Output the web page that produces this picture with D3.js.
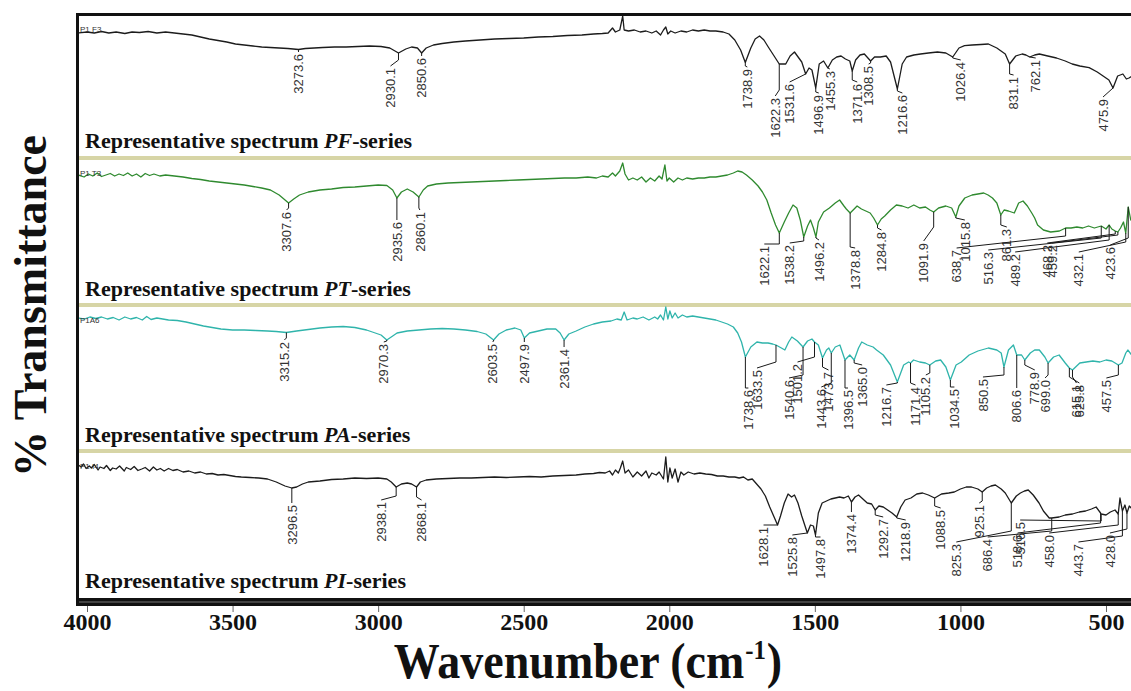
<!DOCTYPE html>
<html>
<head>
<meta charset="utf-8">
<script src="https://cdnjs.cloudflare.com/ajax/libs/d3/7.8.5/d3.min.js"></script>
<style>
body { margin: 0; background: #fff; }
svg { display: block; }
</style>
</head>
<body>
<div id="chart"></div>
<script>
//Declarations
var width = 1131, height = 691;
var svg, plot, xScale;

var xTicks = [4000, 3500, 3000, 2500, 2000, 1500, 1000, 500];
var seriesNames = ["PF", "PT", "PA", "PI"];
var sampleTags = ["P1 F3", "P1 T3", "P1A6", "P1 I4"];
var seriesColors = ["#1c1c1c", "#2f8a2f", "#2fb4ab", "#1c1c1c"];

// spectra: [wavenumber, %T]
var pfSpectrum = [[4030,81],[4000,82],[3975,81],[3950,82.5],[3925,81],[3900,82],[3870,80.5],[3845,82],[3820,81.5],[3790,82.5],[3760,81],[3730,82],[3700,81],[3670,80],[3640,79],[3610,77],[3580,75],[3550,73.5],[3520,72],[3490,70],[3460,69],[3430,68],[3400,67],[3370,66.5],[3340,66],[3310,65.5],[3273.6,64.5],[3250,65.5],[3220,66],[3190,66.5],[3150,67],[3110,67],[3070,67.5],[3030,68],[2990,67.5],[2960,66],[2930.1,61],[2905,65],[2885,67],[2865,66],[2850.6,61],[2835,66],[2810,69],[2780,70.5],[2740,72],[2700,73],[2650,74],[2600,75],[2550,75.5],[2500,76],[2450,77],[2400,77.5],[2350,78.5],[2300,79],[2260,80],[2230,80.5],[2210,81],[2195,86],[2185,82],[2170,84],[2160,98],[2155,84],[2140,83],[2120,84],[2100,82],[2080,83],[2060,81],[2045,83],[2030,79],[2020,84],[2012,87],[2005,80],[1995,83],[1980,81],[1960,83],[1940,82],[1920,84],[1900,83],[1880,84],[1860,83],[1840,83],[1815,82],[1795,80],[1775,74],[1755,64],[1738.9,51.5],[1720,66],[1705,75],[1690,78],[1675,74],[1660,67],[1640,58],[1622.3,50],[1600,50],[1585,58],[1570,62],[1555,56],[1545,52],[1531.6,40],[1520,46],[1510,44],[1496.9,26],[1485,50],[1470,53],[1455.3,46],[1440,54],[1425,57],[1410,58],[1395,55],[1380,53],[1371.6,43],[1360,54],[1345,59],[1330,60],[1308.5,53],[1295,57],[1275,57],[1255,58],[1240,52],[1216.6,25],[1200,50],[1185,57],[1160,59],[1137,60],[1110,61],[1079,62],[1050,61],[1026.4,57],[1005,66],[986,68.4],[960,69],[930,69.5],[904,70],[875,66],[846,60],[831.1,50],[810,58],[788,60],[775,59],[762.1,57],[745,59],[729,60],[700,58],[670,56],[640,53],[616,50],[590,48],[558,46.4],[530,42],[500,36],[490,34],[475.9,26],[460,38],[442,40],[430,35],[421,36],[410,38]];

var ptSpectrum = [[4030,83],[4010,81],[3995,84],[3980,82],[3965,85],[3950,81.5],[3935,83],[3920,84.5],[3905,82],[3890,84],[3875,82.5],[3860,85],[3845,82],[3830,84],[3815,81],[3800,84.5],[3785,82.5],[3770,84],[3750,82],[3730,83],[3700,82],[3670,81],[3640,79.5],[3610,78.5],[3580,77],[3550,76],[3520,75],[3490,74],[3460,73],[3430,71.5],[3400,70],[3370,68],[3340,63],[3307.6,55],[3290,59],[3270,63],[3240,66],[3200,68],[3160,69],[3120,70.5],[3080,71],[3040,72],[3000,73],[2970,72.5],[2950,68],[2935.6,60],[2920,66],[2900,69],[2880,66],[2860.1,61],[2845,68],[2830,72],[2800,74],[2760,75],[2720,75.5],[2680,76],[2640,76.5],[2600,77],[2560,77.5],[2520,78],[2480,78.5],[2440,79],[2400,79.5],[2360,80],[2320,80],[2280,81],[2250,80],[2230,82],[2210,81],[2195,85],[2185,82],[2170,87],[2160,95],[2152,84],[2140,78],[2125,80],[2110,78],[2095,81],[2080,76],[2065,80],[2050,77],[2035,82],[2025,79],[2015,93],[2008,77],[2000,80],[1985,76],[1970,80],[1955,78],[1940,80],[1920,79],[1900,80],[1880,80],[1860,81],[1840,81],[1820,82],[1800,83],[1780,85],[1765,87],[1750,86],[1735,83],[1715,78],[1695,72],[1680,66],[1665,58],[1650,45],[1635,33],[1622.1,25],[1605,36],[1590,45],[1575,53],[1562,50],[1550,38],[1538.2,21],[1525,32],[1515,38],[1505,30],[1496.2,21],[1488,36],[1470,46],[1450,50],[1430,55],[1415,58],[1400,52],[1392,49],[1378.8,45],[1365,49],[1355,52],[1340,49],[1325,47],[1310,45],[1298,40],[1284.8,33],[1272,39],[1260,42],[1240,48],[1220,53],[1200,52],[1180,50],[1160,53],[1140,50],[1120,51],[1105,48],[1091.9,46],[1075,50],[1050,52],[1030,50],[1015.8,41],[1005,52],[985,60],[960,63],[940,64],[920,65],[905,63],[890,60],[875,55],[861.3,43],[850,48],[835,47],[815,45],[800,55],[785,57],[770,52],[755,45],[745,40],[735,33],[715,28],[690,26],[660,27],[638.7,30],[620,30],[600,31],[580,30],[560,32],[540,30],[516.3,32],[500,29],[489.2,33],[480,29],[468.2,27],[459.2,26],[450,30],[440,36],[432.1,25],[423.6,51],[415,38],[405,40]];

var paSpectrum = [[4030,87],[4010,86],[3990,88],[3970,86.5],[3950,88],[3930,86],[3910,87.5],[3890,85],[3870,88],[3850,86],[3830,87.5],[3810,85],[3795,88.5],[3780,85.5],[3760,87],[3740,86],[3720,85],[3690,84.5],[3660,83],[3630,81],[3600,79],[3570,77.5],[3540,76],[3500,75],[3460,75],[3420,74.5],[3380,74],[3350,73.5],[3315.2,72.5],[3280,74],[3240,75.5],[3200,77],[3160,78],[3120,78.5],[3080,77.5],[3040,75],[3010,72],[2990,70],[2970.3,65],[2955,68],[2935,72],[2900,74],[2860,75],[2820,76],[2780,76.5],[2740,76],[2700,75],[2660,73.5],[2630,71],[2603.5,65],[2585,71],[2560,75],[2530,77],[2510,75],[2497.9,67],[2480,72],[2450,74],[2420,76],[2390,76],[2375,72],[2361.4,65],[2345,71],[2320,74],[2290,78],[2260,81],[2230,83],[2200,84],[2180,86],[2165,85],[2155,93],[2145,85],[2125,87],[2110,86],[2090,88],[2070,85],[2050,88],[2040,86],[2030,90],[2020,85],[2012,98],[2005,86],[1998,94],[1990,87],[1980,92],[1970,87],[1955,90],[1940,88],[1920,89],[1900,88],[1880,87],[1860,86],[1840,85],[1820,83],[1800,81],[1780,78],[1765,72],[1752,63],[1738.6,48],[1720,58],[1699,63],[1680,62],[1661,62],[1645,61],[1633.5,60],[1615,57],[1603,55],[1590,63],[1579,68],[1560,64],[1540.6,58],[1525,64],[1510,66],[1501.2,63],[1488,60],[1473.7,47],[1460,55],[1452,57],[1443.6,52],[1430,58],[1414,60],[1396.5,45],[1380,50],[1365,45],[1350,57],[1339,63],[1320,60],[1300,58],[1288,55],[1265,50],[1240,40],[1216.7,23],[1195,40],[1178,43],[1171.4,42],[1161,45],[1140,43],[1120,42],[1105.2,40],[1085,44],[1068,45],[1050,38],[1034.5,25],[1015,40],[997,43],[970,50],[940,54],[904,57],[875,55],[860,52],[850.5,38],[835,55],[818,60],[806.6,50],[790,50],[778.9,45],[760,52],[745,55],[729,55],[710,48],[699,42],[680,48],[661,50],[640,42],[625.8,37],[615.1,35],[590,42],[568,43],[545,44],[521,43],[500,45],[480,44],[457.5,40],[445,42],[432,52],[425,55],[412,50]];

var piSpectrum = [[4030,86],[4020,84],[4012,87],[4003,82.5],[3992,85],[3985,83],[3975,86.5],[3962,81],[3955,84],[3942,82.5],[3933,85.5],[3920,80.5],[3912,83],[3900,82],[3888,85],[3872,80],[3865,83.5],[3850,81.5],[3838,84.5],[3825,80.5],[3812,82],[3800,83.5],[3785,80],[3772,84],[3760,81],[3748,82.5],[3735,80],[3720,82.5],[3705,80.5],[3690,81.5],[3670,79],[3650,80],[3630,78],[3610,79],[3590,77],[3570,77.5],[3550,76],[3530,76.5],[3510,75.5],[3490,74.5],[3470,74],[3440,73.5],[3410,73],[3380,72],[3350,69],[3320,65],[3296.5,63],[3280,64],[3260,67],[3240,69],[3200,70],[3160,71.5],[3120,72],[3080,73],[3040,72.5],[3000,73],[2970,72],[2955,69],[2938.1,64],[2920,67],[2900,68],[2885,67],[2868.1,64],[2855,69],[2835,71],[2800,72],[2760,72.5],[2720,73],[2680,73],[2640,73.5],[2600,74],[2560,73.5],[2520,74],[2480,74.5],[2440,74],[2400,75],[2360,75.5],[2320,76],[2290,77],[2260,77.5],[2240,78.5],[2220,78],[2205,80],[2195,76],[2185,81],[2175,78],[2168,83],[2160,90],[2152,78],[2140,81],[2125,74],[2110,79],[2095,75],[2080,80],[2070,73],[2060,78],[2045,76],[2035,79],[2020,72],[2012,94],[2005,69],[1998,83],[1990,73],[1980,82],[1970,69],[1960,79],[1950,76],[1935,79],[1915,77],[1895,78],[1875,77],[1855,76.5],[1835,75],[1815,75],[1795,74],[1775,74],[1760,73],[1745,74],[1730,71],[1715,72],[1700,67],[1685,62],[1670,55],[1655,44],[1640,34],[1628.1,26],[1618,35],[1605,48],[1592,57],[1580,54],[1570,56],[1558,48],[1545,35],[1525.8,18],[1515,26],[1505,25],[1497.8,16],[1488,38],[1475,48],[1460,50],[1445,52],[1430,53],[1415,54],[1400,53],[1385,55],[1374.4,49],[1362,54],[1350,56],[1335,52],[1320,48],[1305,47],[1292.7,41],[1280,45],[1265,44],[1250,41],[1235,38],[1218.9,34],[1205,44],[1190,51],[1170,53],[1150,57],[1130,58],[1110,56],[1088.5,53],[1065,57],[1040,58],[1021,59],[1000,62],[980,64],[962,64],[940,62],[925.1,59],[910,63],[895,65],[880,66],[860,62],[846,58],[825.3,48],[808,55],[794,58],[780,60],[767,61],[750,56],[730,48],[715,40],[695,33],[686.4,33],[661,34],[640,36],[615,37],[592,39],[570,40],[550,42],[534,44],[518.6,38],[516.5,37],[500,36],[485,39],[469,41],[458,37],[452,53],[443.7,40],[435,46],[428,38],[420,45],[410,42]];

// labelled bands (cm-1)
var pfPeaks = [3273.6, 2930.1, 2850.6, 1738.9, 1622.3, 1531.6, 1496.9, 1455.3, 1371.6, 1308.5, 1216.6, 1026.4, 831.1, 762.1, 475.9];
var ptPeaks = [3307.6, 2935.6, 2860.1, 1622.1, 1538.2, 1496.2, 1378.8, 1284.8, 1091.9, 1015.8, 861.3, 638.7, 516.3, 489.2, 468.2, 459.2, 432.1, 423.6];
var paPeaks = [3315.2, 2970.3, 2603.5, 2497.9, 2361.4, 1738.6, 1633.5, 1540.6, 1501.2, 1473.7, 1443.6, 1396.5, 1365.0, 1216.7, 1171.4, 1105.2, 1034.5, 850.5, 806.6, 778.9, 699.0, 625.8, 615.1, 457.5];
var piPeaks = [3296.5, 2938.1, 2868.1, 1628.1, 1525.8, 1497.8, 1374.4, 1292.7, 1218.9, 1088.5, 925.1, 825.3, 686.4, 518.6, 516.5, 458.0, 443.7, 428.0];

// label placement in px: [dx, leader elbow below panel top, label top below panel top]
var pfLabelPos = [[0,36,38],[-8,46,52],[0,40,42],[2,52,53],[-4,76,82],[-16,60,68],[3,78,79],[2,54,55],[5,66,68],[-2,49,50],[5,77,79],[8,44,46],[4,60,61],[6,43,44],[-10,74,83]];
var ptLabelPos = [[-2,50,52],[0,60,62],[1,50,52],[-15,86,86],[-14,83,85],[3,80,82],[5,89,90],[4,70,72],[-10,69,83],[9,60,62],[6,67,69],[-109,78,90],[-113,80,92],[-94,82,94],[-68,76,85],[-66,77,85],[-47,84,94],[-18,80,87]];
var paLabelPos = [[-2,33,35],[-3,36,37],[-1,36,37],[0,36,37],[0,40,42],[3,83,83],[-19,57,63],[-14,70,73],[-17,52,57],[6,62,65],[-10,78,82],[3,83,83],[8,58,60],[-11,78,80],[5,78,80],[-4,68,70],[4,82,82],[-21,70,72],[0,80,83],[10,60,65],[-3,70,73],[10,72,78],[4,72,78],[-12,70,73]];
var piLabelPos = [[0,50,52],[-15,45,49],[5,46,49],[-14,74,74],[-15,82,84],[5,86,86],[0,61,61],[8,64,66],[9,67,69],[6,55,57],[-3,50,52],[-55,80,91],[-64,80,86],[-83,72,82],[-81,70,69],[-69,74,82],[-44,85,91],[-17,78,82]];

var panelTop = [14, 158, 305, 451];
var titleBase = [148, 296, 442, 588];

function valueAt (data, wn){
	for (var k = 0; k < data.length - 1; k++){
		var a = data[k], b = data[k+1];
		if (wn <= a[0] && wn >= b[0]){
			var t = (a[0] - wn) / (a[0] - b[0]);
			return a[1] + t * (b[1] - a[1]);
		}
	}
	return data[data.length-1][1];
}

function drawPanel (i, data, peaks, labelPos){
	var top = panelTop[i];
	var yScale = d3.scaleLinear().domain([0, 100]).range([top + 100, top]);
	var line = d3.line()
		.x(function (d){ return xScale(d[0]); })
		.y(function (d){ return yScale(d[1]); });

	var g = plot.append("g").attr("class", "panel-" + seriesNames[i]);

	g.append("path")
	.datum(data)
	.attr("d", line)
	.attr("fill", "none")
	.attr("stroke", seriesColors[i])
	.attr("stroke-width", 1.3)
	.attr("stroke-linejoin", "round");

	var pk = g.selectAll("g.peak")
	.data(peaks)
	.enter()
	.append("g")
	.attr("class", "peak");

	pk.append("path")
	.attr("fill", "none")
	.attr("stroke", "#1a1a1a")
	.attr("stroke-width", 1)
	.attr("d", function (d, j){
		var p = labelPos[j];
		var px = xScale(d), py = yScale(valueAt(data, d));
		var ey = Math.max(py, top + p[1]);
		return "M" + px + "," + py + "L" + px + "," + ey + "L" + (px + p[0]) + "," + (top + p[2]);
	});

	pk.append("text")
	.attr("transform", function (d, j){
		var p = labelPos[j];
		return "translate(" + (xScale(d) + p[0]) + "," + (top + p[2] + 2) + ") rotate(-90)";
	})
	.attr("dy", "0.36em")
	.attr("text-anchor", "end")
	.style("font-family", "'Liberation Sans', Arial, sans-serif")
	.style("font-size", "13px")
	.attr("fill", "#333")
	.text(function (d){ return d3.format(".1f")(d); });

	// sample tag
	g.append("text")
	.attr("x", 80)
	.attr("y", top + 18)
	.style("font-family", "'Liberation Sans', Arial, sans-serif")
	.style("font-size", "8px")
	.attr("fill", "#333")
	.text(sampleTags[i]);
}

function init (){
	svg = d3.select("#chart")
	.append("svg")
	.attr("width", width)
	.attr("height", height);

	xScale = d3.scaleLinear()
	.domain([4000, 500])
	.range([87, 1106]);

	svg.append("defs").append("clipPath")
	.attr("id", "plot-clip")
	.append("rect")
	.attr("x", 79).attr("y", 16)
	.attr("width", width - 79).attr("height", 582);

	// separators between the four spectra
	svg.selectAll("line.sep")
	.data(panelTop.slice(1))
	.enter()
	.append("line")
	.attr("class", "sep")
	.attr("x1", 79).attr("x2", width)
	.attr("y1", function (d){ return d; })
	.attr("y2", function (d){ return d; })
	.attr("stroke", "#d7d5a6")
	.attr("stroke-width", 4);

	plot = svg.append("g").attr("clip-path", "url(#plot-clip)");

	drawPanel(0, pfSpectrum, pfPeaks, pfLabelPos);
	drawPanel(1, ptSpectrum, ptPeaks, ptLabelPos);
	drawPanel(2, paSpectrum, paPeaks, paLabelPos);
	drawPanel(3, piSpectrum, piPeaks, piLabelPos);

	// panel titles
	var titles = svg.selectAll("text.ptitle")
	.data(seriesNames)
	.enter()
	.append("text")
	.attr("class", "ptitle")
	.attr("x", 85)
	.attr("y", function (d, i){ return titleBase[i]; })
	.style("font-family", "'Liberation Serif', 'Times New Roman', serif")
	.style("font-weight", "bold")
	.style("font-size", "22px")
	.attr("fill", "#111");
	titles.append("tspan").text("Representative spectrum ");
	titles.append("tspan").style("font-style", "italic").text(function (d){ return d; });
	titles.append("tspan").text("-series");

	// frame
	svg.append("line")
	.attr("x1", 77.5).attr("x2", 77.5).attr("y1", 13).attr("y2", 606)
	.attr("stroke", "#111").attr("stroke-width", 3);
	svg.append("line")
	.attr("x1", 76).attr("x2", width).attr("y1", 14.5).attr("y2", 14.5)
	.attr("stroke", "#111").attr("stroke-width", 3);

	// x axis
	var xAxis = d3.axisBottom(xScale)
	.tickValues(xTicks)
	.tickSize(8)
	.tickPadding(2)
	.tickFormat(d3.format("d"));

	var ax = svg.append("g")
	.attr("class", "x axis")
	.attr("transform", "translate(0,604)")
	.call(xAxis);
	ax.select(".domain").remove();
	ax.selectAll(".tick line").attr("stroke", "#666");
	ax.selectAll(".tick text")
	.attr("fill", "#111")
	.attr("dy", "0.68em")
	.style("font-family", "'Liberation Serif', 'Times New Roman', serif")
	.style("font-weight", "bold")
	.style("font-size", "24px");

	svg.append("rect")
	.attr("x", 76).attr("y", 598)
	.attr("width", width - 76).attr("height", 8)
	.attr("fill", "#111");
	svg.append("line")
	.attr("x1", 79).attr("x2", width).attr("y1", 602).attr("y2", 602)
	.attr("stroke", "#777").attr("stroke-width", 1);

	// axis titles
	var xt = svg.append("text")
	.attr("transform", "translate(588,678) scale(0.92,1)")
	.attr("text-anchor", "middle")
	.style("font-family", "'Liberation Serif', 'Times New Roman', serif")
	.style("font-weight", "bold")
	.style("font-size", "50px")
	.attr("fill", "#111");
	xt.append("tspan").text("Wavenumber (cm");
	xt.append("tspan").attr("dy", -19).attr("dx", 1).style("font-size", "27px").text("-1");
	xt.append("tspan").attr("dy", 19).attr("dx", 1).text(")");

	svg.append("text")
	.attr("transform", "translate(46,306) rotate(-90)")
	.attr("text-anchor", "middle")
	.style("font-family", "'Liberation Serif', 'Times New Roman', serif")
	.style("font-weight", "bold")
	.style("font-size", "46px")
	.attr("fill", "#111")
	.text("% Transmittance");
}

init();
</script>
</body>
</html>
